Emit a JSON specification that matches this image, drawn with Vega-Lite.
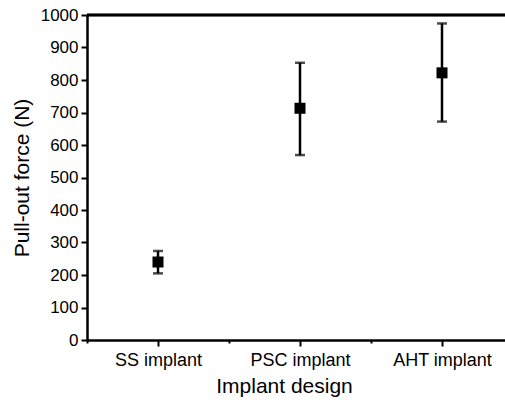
{
  "$schema": "https://vega.github.io/schema/vega-lite/v6.json",
  "autosize": "none",
  "padding": {"left": 87, "top": 15, "right": 0, "bottom": 65},
  "width": 418,
  "height": 325,
  "background": "white",
  "config": {
    "view": {"stroke": null},
    "font": "Liberation Sans",
    "axis": {"labelFont": "Liberation Sans", "titleFont": "Liberation Sans", "labelColor": "black", "titleColor": "black", "domainColor": "black", "tickColor": "black", "titleFontWeight": "normal", "grid": false},
    "axisY": {
      "values": [0, 50, 100, 150, 200, 250, 300, 350, 400, 450, 500, 550, 600, 650, 700, 750, 800, 850, 900, 950, 1000],
      "format": "d",
      "labelExpr": "datum.value % 100 == 0 ? datum.label : ''",
      "labelOverlap": false,
      "labelFontSize": 17,
      "labelPadding": 3,
      "domainWidth": 2.5,
      "tickWidth": 2,
      "tickSize": {"condition": {"test": "datum.value % 100 != 0", "value": 3}, "value": 6},
      "titleFontSize": 21,
      "titlePadding": 8
    }
  },
  "data": {
    "values": [
      {"design": "SS implant", "mean": 240, "lo": 205, "hi": 274},
      {"design": "PSC implant", "mean": 713, "lo": 569, "hi": 853},
      {"design": "AHT implant", "mean": 822, "lo": 672, "hi": 974}
    ]
  },
  "encoding": {
    "x": {
      "field": "design",
      "type": "nominal",
      "scale": {"type": "point", "domain": [" ", "SS implant", "  ", "PSC implant", "   ", "AHT implant", "    "], "padding": 0, "range": [0, 426]},
      "axis": {
        "title": "Implant design",
        "titleFontSize": 21,
        "titleX": 197,
        "titlePadding": 6,
        "labelFontSize": 18,
        "labelPadding": 5,
        "labelAngle": 0,
        "domainWidth": 2.5,
        "tickWidth": 2,
        "tickSize": {"condition": {"test": "indexof(datum.value, 'implant') < 0", "value": 3}, "value": 6}
      }
    }
  },
  "layer": [
    {
      "mark": {"type": "rule", "color": "black", "strokeWidth": 2.5},
      "encoding": {
        "x": null,
        "y": {
          "datum": 1000,
          "type": "quantitative",
          "scale": {"domain": [0, 1000], "nice": false, "zero": true},
          "title": "Pull-out force (N)"
        }
      }
    },
    {
      "mark": {"type": "rule", "color": "black", "strokeWidth": 2.5},
      "encoding": {
        "y": {"field": "lo", "type": "quantitative", "title": "Pull-out force (N)"},
        "y2": {"field": "hi"}
      }
    },
    {
      "mark": {"type": "tick", "color": "black", "thickness": 2.5, "size": 10},
      "encoding": {"y": {"field": "lo", "type": "quantitative", "title": "Pull-out force (N)"}}
    },
    {
      "mark": {"type": "tick", "color": "black", "thickness": 2.5, "size": 10},
      "encoding": {"y": {"field": "hi", "type": "quantitative", "title": "Pull-out force (N)"}}
    },
    {
      "mark": {"type": "point", "shape": "square", "filled": true, "color": "black", "opacity": 1, "size": 121},
      "encoding": {"y": {"field": "mean", "type": "quantitative", "title": "Pull-out force (N)"}}
    }
  ]
}
